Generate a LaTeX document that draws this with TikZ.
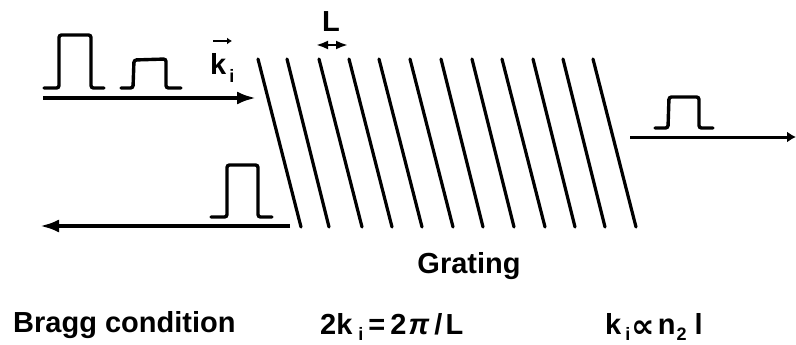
\documentclass[tikz,border=0pt]{standalone}
\usepackage{fontspec}
\setmainfont{Liberation Sans}
\newfontfamily\symfont{DejaVu Sans}
\usetikzlibrary{arrows.meta}
\newcommand{\subtxt}[2][-6pt]{\raisebox{#1}{\fontsize{18}{18}\selectfont #2}}
\tikzset{
    beam/.style={line width=3.6pt, -{Latex[length=19pt, width=13pt]}},
    pulse/.style={line width=3.4pt, line cap=round, rounded corners=2.5pt},
    fringe/.style={line width=3.2pt, line cap=round},
    every node/.style={inner sep=0pt, font=\fontsize{29}{33}\selectfont\bfseries}
}
\begin{document}
\begin{tikzpicture}[x=1pt, y=-1pt]
    \useasboundingbox (0,0) rectangle (796,345);
    % grating
    \foreach \xtop/\xbot in {258/301, 287/329, 319/362, 349/392, 379/422, 410/453,
                             441/483, 472/514, 502/545, 533/575, 563/605, 593/636}
        \draw[fringe] (\xtop,59) -- (\xbot,227);
    % beams
    \coordinate (inA) at (43,98);
    \coordinate (inB) at (256,98);
    \coordinate (backA) at (290,226);
    \coordinate (backB) at (40,226);
    \coordinate (outA) at (630,137);
    \coordinate (outB) at (796,137);
    \draw[beam] (inA) -- (inB);
    \draw[beam] (backA) -- (backB);
    \draw[beam, line width=3pt, -{Latex[length=9pt, width=11pt]}] (outA) -- (outB);
    % pulses
    \draw[pulse] (44,88) -- (59,88) -- (59,35) -- (91,35) -- (91,88) -- (104,88);
    \draw[pulse] (121,88) -- (133,88) -- (134,60) -- (166,59) -- (166,88) -- (181,88);
    \draw[pulse] (211,217) -- (227,217) -- (227,165) -- (258,165) -- (258,217) -- (272,217);
    \draw[pulse] (655,128) -- (668,128) -- (669,97) -- (699,97) -- (699,128) -- (713,128);
    % labels
    \node[anchor=base west] (ki) at (210,75) {k\hspace{3pt}\subtxt[-8pt]{i}};
    \coordinate (kA) at (213,41);
    \coordinate (kB) at (232,41);
    \draw[line width=2.6pt, -{Latex[length=5pt, width=7pt]}] (kA) -- (kB);
    \node (period) at (331,22) {L};
    \coordinate (perA) at (316,45);
    \coordinate (perB) at (348,45);
    \draw[line width=2.6pt, {Latex[length=12pt, width=9pt]}-{Latex[length=12pt, width=9pt]}] (perA) -- (perB);
    \node[anchor=base] (grating) at (469,273) {Grating};
    \node[anchor=base west] (bragg) at (13,332) {Bragg condition};
    \node[anchor=base west] (eqA) at (320,334) {2k\hspace{6pt}\subtxt{i}\hspace{5pt}=\hspace{5pt}2\hspace{2pt}\textit{π}\hspace{5pt}/\hspace{3pt}L};
    \node[anchor=base west] (eqB) at (605,334) {k\hspace{4pt}\subtxt{i}\hspace{1pt}\raisebox{-3pt}{\symfont\fontsize{33}{33}\selectfont ∝}\hspace{3pt}n\hspace{1pt}\subtxt{2}\hspace{8pt}l};
\end{tikzpicture}
\end{document}
